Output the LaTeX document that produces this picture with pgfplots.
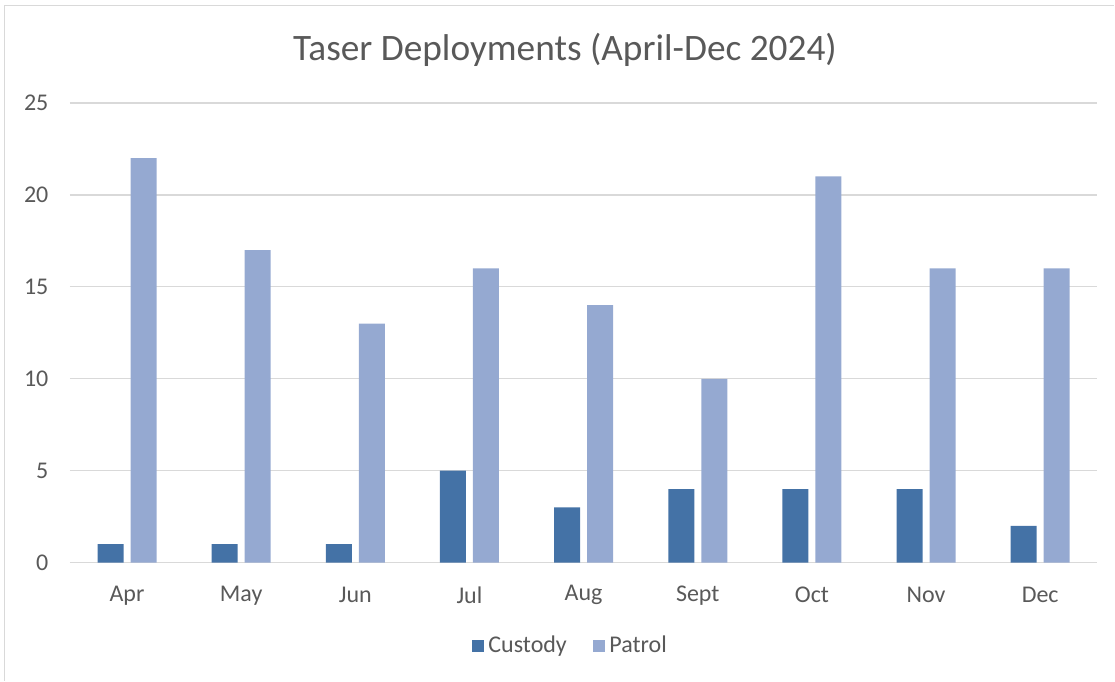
\documentclass[border=0pt]{standalone}
\usepackage{fontspec}
\setmainfont{Carlito}
\usepackage{pgfplots}
\pgfplotsset{compat=1.18}

\definecolor{custody}{RGB}{68,114,166}
\definecolor{patrol}{RGB}{149,169,209}
\definecolor{txt}{RGB}{89,89,89}
\definecolor{gridc}{RGB}{217,217,217}

\begin{document}
\begin{tikzpicture}
% page frame, 1 px = 0.75 pt
\path (0,0) rectangle (836.25pt,510.75pt);
\draw[gridc, line width=1.1pt] (3.4pt,0) -- (3.4pt,506.6pt) -- (836.25pt,506.6pt);

\begin{axis}[
    at={(52.5pt,88.5pt)},
    anchor=south west,
    scale only axis,
    width=771pt,
    height=345pt,
    ybar=5.25pt,
    bar width=19.5pt,
    xmin=-0.5, xmax=8.5,
    ymin=0, ymax=25,
    xtick={0,...,8},
    xticklabels={Apr,May,Jun,Jul,Aug,Sept,Oct,Nov,Dec},
    ytick={0,5,...,25},
    major tick length=0pt,
    axis line style={draw=none},
    ymajorgrids=true,
    grid style={gridc, line width=1pt},
    tick label style={font=\fontsize{18}{21}\selectfont, text=txt},
    /pgf/number format/assume math mode=true,
    xticklabel style={anchor=center, yshift=-24.5pt},
    yticklabel style={anchor=east, inner sep=0pt, xshift=-16pt},
    title={Taser Deployments (April-Dec 2024)},
    title style={at={(0.5,1)}, anchor=center, yshift=34pt, xshift=-14pt,
        font=\fontsize{28}{33}\selectfont, text=txt},
    legend columns=2,
    legend style={at={(0.5,0)}, anchor=center, yshift=-62.25pt, xshift=-9pt,
        draw=none, font=\fontsize{18}{21}\selectfont, text=txt,
        /tikz/every even column/.append style={column sep=16pt},
        nodes={inner xsep=3.5pt}},
    legend image code/.code={\fill[#1] (0pt,-4.5pt) rectangle (9pt,4.5pt);},
]
\addplot[draw=none, fill=custody] coordinates {
    (0,1) (1,1) (2,1) (3,5) (4,3) (5,4) (6,4) (7,4) (8,2)
};
\addplot[draw=none, fill=patrol] coordinates {
    (0,22) (1,17) (2,13) (3,16) (4,14) (5,10) (6,21) (7,16) (8,16)
};
\legend{Custody, Patrol}
\end{axis}
\end{tikzpicture}
\end{document}
